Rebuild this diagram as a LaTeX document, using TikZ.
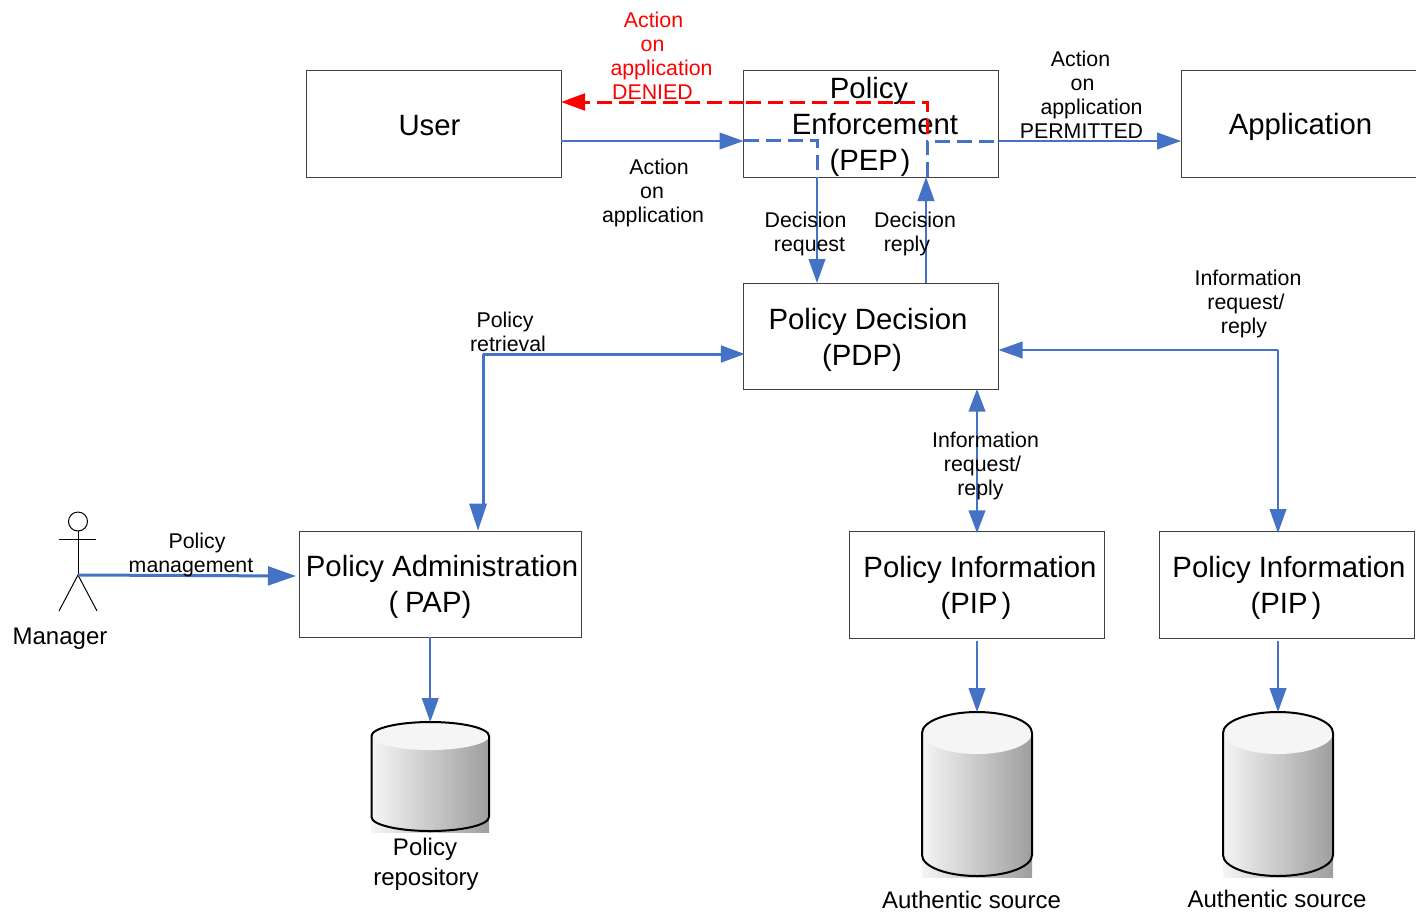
\documentclass[tikz,border=0pt]{standalone}
\usepackage{fontspec}
\setmainfont{Liberation Sans}
\usetikzlibrary{arrows.meta,calc}
\definecolor{linkblue}{HTML}{4472C4}
\definecolor{boxline}{HTML}{404040}
\newcommand\oL[2]{\hspace*{\dimexpr #1pt*3/2\relax}#2}
\newcommand\oF[3]{\rule{0pt}{#1pt}\hspace*{\dimexpr #2pt*3/2\relax}#3}
\newcommand\cylshape[6]{% name, L, R, T, B, ry
  \fill[left color=black!4,right color=black!38] (#2,#4+#6) rectangle (#3,#5+1);
  \fill[black!4] ({(#2+#3)/2},#4+#6) ellipse [x radius={(#3-#2)/2},y radius=#6];
  \draw[cylline] (#2,#5-#6) -- (#2,#4+#6) arc[start angle=180,end angle=360,x radius={(#3-#2)/2},y radius=#6] -- (#3,#5-#6) arc[start angle=0,end angle=180,x radius={(#3-#2)/2},y radius=#6];
  \coordinate (#1) at ({(#2+#3)/2},#4);
}
\tikzset{
  x=0.75pt,y=-0.75pt,
  wh/.style 2 args={minimum width=#1*0.75pt,minimum height=#2*0.75pt},
  bigbox/.style={draw=boxline,line width=0.6pt,inner sep=0pt,outer sep=0pt,align=center,font=\fontsize{22}{27}\selectfont},
  note/.style={inner sep=0pt,outer sep=0pt,align=center,font=\fontsize{16}{18}\selectfont},
  capt/.style={inner sep=0pt,outer sep=0pt,align=center,font=\fontsize{18}{22.5}\selectfont},
  link/.style={draw=linkblue,line width=1.4pt},
  thicklink/.style={draw=linkblue,line width=2.25pt},
  tipb/.style={-{Triangle[length=18pt,width=12.5pt,fill=linkblue]}},
  tipbb/.style={{Triangle[length=17pt,width=12.5pt,fill=linkblue]}-{Triangle[length=17pt,width=12.5pt,fill=linkblue]}},
  dashlink/.style={draw=linkblue,line width=2.25pt,dash pattern=on 11.25pt off 5.25pt},
  redlink/.style={draw=red,line width=2.25pt,dash pattern=on 11.25pt off 5.25pt},
  cylline/.style={draw=black,line width=1.5pt},
  figure/.style={draw=black,line width=0.75pt},
}
\begin{document}
\begin{tikzpicture}
\useasboundingbox (0,0) rectangle (1416,911);
% boxes
\node[bigbox,wh={255}{107}] (user) at (433.5,123.5) {\oF{17.5}{-4}{User}};
\node[bigbox,wh={255}{107}] (pep) at (871,123.5) {\oF{20.5}{-2}{Policy}\\\oL{4}{Enforcement}\\\oL{-1}{(PEP\hspace{2pt})}};
\node[bigbox,draw=none,wh={235}{107}] (app) at (1298.5,123.5) {\oF{20.5}{2}{Application}};
\draw[draw=boxline,line width=0.6pt] (app.north east) -- (app.north west) -- (app.south west) -- (app.south east);
\node[bigbox,wh={255}{106}] (pdp) at (871,336) {\oF{22}{-3}{Policy Decision}\\\oL{-9}{(PDP)}};
\node[bigbox,wh={282}{106}] (pap) at (440,584) {\oF{20.5}{2}{Policy Administration}\\\oL{-10}{(\hspace{5pt}PAP)}};
\node[bigbox,wh={255}{107}] (pipa) at (977,584.5) {\oF{20.5}{3}{Policy Information}\\\oL{-1}{(PIP\hspace{3pt})}};
\node[bigbox,wh={255}{107}] (pipb) at (1287,584.5) {\oF{20.5}{2}{Policy Information}\\\oL{-1}{(PIP\hspace{3pt})}};
% cylinders
\cylshape{repo}{371.5}{489}{722}{831}{14}
\cylshape{srca}{922}{1032}{712}{876}{21}
\cylshape{srcb}{1223}{1333}{712}{876}{21}
% manager figure
\node[draw=black,line width=0.75pt,circle,minimum size=14.25pt,inner sep=0pt,outer sep=0pt] (head) at (78,521.5) {};
\coordinate (hip) at (78,575);
\coordinate (armL) at (59,539);
\coordinate (armR) at (96,539);
\coordinate (footL) at (59,611);
\coordinate (footR) at (97,611);
\draw[figure] (head.south) -- (hip);
\draw[figure] (armL) -- (armR);
\draw[figure] (footL) -- (hip) -- (footR);
% connectors
\draw[link,tipb] (user.east |- 0,141) -- (pep.west |- 0,141);
\coordinate (reqTop) at (817,140);
\coordinate (repTop) at (927,141);
\draw[dashlink] (pep.west |- reqTop) -- (reqTop) -- (reqTop |- pep.south);
\draw[link,tipb] (reqTop |- pep.south) -- (reqTop |- pdp.north);
\draw[link,tipb] (926,0 |- pdp.north) -- (926,0 |- pep.south);
\draw[dashlink] (repTop |- pep.south) -- (repTop) -- (pep.east |- repTop);
\draw[link,tipb] (pep.east |- repTop) -- (app.west |- repTop);
\coordinate (redTurn) at (927,102);
\draw[redlink] (927,134) -- (redTurn) -- (pep.west |- redTurn);
\draw[redlink,-{Triangle[length=18pt,width=12.5pt,fill=red]}] (pep.west |- redTurn) -- (user.east |- redTurn);
\coordinate (papTurn) at (483,354);
\coordinate (papTip) at (478,530.5);
\draw[thicklink,-{Triangle[length=18pt,width=12.5pt,fill=linkblue]},shorten >=-1pt] (papTurn) -- (pdp.west |- papTurn);
\draw[thicklink] (papTurn) -- (483,504);
\fill[linkblue] (papTip) -- ++(-9,-27) -- ++(18,0) -- cycle;
\draw[link,tipbb,shorten >=-1.5pt] (977,0 |- pdp.south) -- (977,0 |- pipa.north);
\coordinate (infoTurn) at (1278,350);
\draw[link,-{Triangle[length=18pt,width=12.5pt,fill=linkblue]}] (infoTurn) -- (pdp.east |- infoTurn);
\draw[link,tipb] (infoTurn) -- (1278,533);
\draw[thicklink,-{Triangle[length=21pt,width=14pt,fill=linkblue]}] (hip) -- (296,576);
\draw[link,tipb] (repo |- pap.south) -- (repo);
\draw[link,tipb] (srca |- 0,641) -- (srca);
\draw[link,tipb] (srcb |- 0,641) -- (srcb);
% labels
\node[note,text=red] (denied) at (653.5,56) {\oL{0}{Action}\\\oL{-1}{on}\\\oL{8}{application}\\\oL{-1}{DENIED}};
\node[note] (act) at (655,193) {\oL{4}{Action}\\\oL{-3}{on}\\\oL{-2}{application}};
\node[note] (perm) at (1085.5,95) {\oL{-5}{Action}\\\oL{-3}{on}\\\oL{6}{application}\\\oL{-4}{PERMITTED}};
\node[note] (dreq) at (807.5,234) {\oL{-2}{Decision}\\\oL{2}{request}};
\node[note] (drep) at (911,234) {\oL{4}{Decision}\\\oL{-4}{reply}};
\node[note] (retr) at (506,332) {\oL{-1}{Policy}\\\oL{2}{retrieval}};
\node[note] (inforight) at (1246,304) {\oL{2}{Information}\\\oL{0}{request/}\\\oL{-2}{reply}};
\node[note] (infomid) at (982.5,466) {\oL{3}{Information}\\\oL{0}{request/}\\\oL{-2}{reply}};
\node[note] (mgmt) at (192,555) {\oL{5}{Policy}\\\oL{-1}{management}};
\node[capt] (mgr) at (60,639) {Manager};
\node[capt] (repocap) at (426,864) {\oL{-1}{Policy}\\repository};
\node[capt] (capa) at (971.5,900) {Authentic source};
\node[capt] (capb) at (1277,899) {Authentic source};
\end{tikzpicture}
\end{document}
